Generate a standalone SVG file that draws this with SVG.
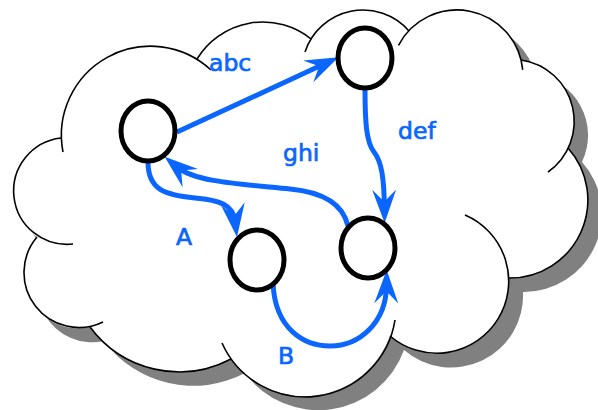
<svg xmlns="http://www.w3.org/2000/svg" width="598" height="410" viewBox="0 0 598 410">
<style>
.lobe{fill:none;stroke:#000;stroke-width:1.6}
.node{fill:#fff;stroke:#000;stroke-width:5}
.edge{fill:none;stroke:#0a66ff;stroke-width:5;marker-end:url(#arr)}
.lbl{font-family:"DejaVu Sans",sans-serif;font-size:23.5px;fill:#0a66ff;stroke:#0a66ff;stroke-width:0.7}
</style>
<defs>
<marker id="arr" markerUnits="userSpaceOnUse" orient="auto" refX="0" refY="0" markerWidth="40" markerHeight="40" viewBox="-15 -12 30 24" overflow="visible">
<path d="M12,0 L-13,-9 L-4,0 L-13,9 Z" fill="#0a66ff"/>
</marker>
<path id="cloudfill" d="M61,138 A89,89 0 0 1 197,59 A77,77 0 0 1 311,39 A61,61 0 0 1 409,31 A66,66 0 0 1 521,60 A62,62 0 0 1 568,148 A78,78 0 0 1 509,278 A72,72 0 0 1 390,336 A91,91 0 0 1 231,359 A111,111 0 0 1 90,327 A55,55 0 0 1 37,237 A53,53 0 0 1 61,138 Z"/>
</defs>
<g id="cloud">
<use href="#cloudfill" transform="translate(14,14)" fill="#808080"/>
<use href="#cloudfill" fill="#fff"/>
<path class="lobe" d="M63,152 A89,89 0 0 1 211,70"/>
<path class="lobe" d="M197,59 A77,77 0 0 1 311,39"/>
<path class="lobe" d="M305,52 A61,61 0 0 1 409,31"/>
<path class="lobe" d="M398.5,45.3 A66,66 0 0 1 522.7,69.9"/>
<path class="lobe" d="M521,60 A62,62 0 0 1 548,172"/>
<path class="lobe" d="M568,148 A78,78 0 0 1 509,278"/>
<path class="lobe" d="M465,215 A72,72 0 1 1 390,336"/>
<path class="lobe" d="M395,320 A91,91 0 0 1 222,343"/>
<path class="lobe" d="M231,359 A111,111 0 0 1 90,327"/>
<path class="lobe" d="M103,322 A55,55 0 0 1 37,237"/>
<path class="lobe" d="M73,244 A53,53 0 1 1 61,138"/>
</g>
<g id="connectors">
<path class="edge" d="M177,132 L324,64"/>
<path class="edge" d="M365,88 C365,120 366,142 374,152 C382,162 384,180 384.4,207"/>
<path class="edge" d="M348,226 C343,204 322,192 290,189 C240,184 195,182 177,167"/>
<path class="edge" d="M148,162 C148,190 165,195 195,198 C220,200 233,205 235,221"/>
<path class="edge" d="M273,283 C275,330 305,346 330,346 C360,346 386,322 386.5,286"/>
</g>
<g id="n1"><ellipse class="node" cx="148" cy="131" rx="27" ry="30"/></g>
<g id="n2"><ellipse class="node" cx="365" cy="58" rx="27" ry="30"/></g>
<g id="n3"><ellipse class="node" cx="257" cy="260" rx="27" ry="30"/></g>
<g id="n4"><ellipse class="node" cx="368" cy="248" rx="27" ry="30"/></g>
<g id="labels">
<text class="lbl" x="209" y="71">abc</text>
<text class="lbl" x="398" y="139">def</text>
<text class="lbl" x="283" y="161">ghi</text>
<text class="lbl" x="176" y="245">A</text>
<text class="lbl" x="278" y="364">B</text>
</g>
</svg>
